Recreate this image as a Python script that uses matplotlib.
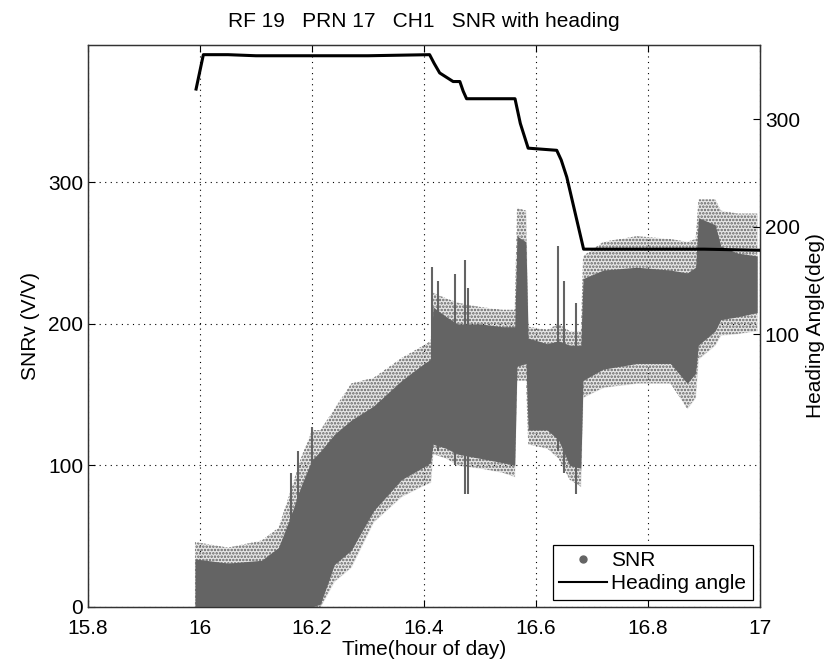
import matplotlib
matplotlib.use('Agg')
import matplotlib.pyplot as plt
from matplotlib.lines import Line2D

plt.rcParams['font.family'] = ['Liberation Sans', 'DejaVu Sans']
plt.rcParams['hatch.linewidth'] = 1.2

# ---- SNR cloud envelope ----
snr_t   = [15.991, 16.05, 16.11, 16.14, 16.16, 16.18, 16.20, 16.215, 16.24, 16.27, 16.31, 16.36, 16.40, 16.412,
           16.416, 16.44, 16.46, 16.50, 16.54, 16.562, 16.566, 16.582, 16.586, 16.62, 16.64, 16.66, 16.68,
           16.684, 16.72, 16.78, 16.84, 16.87, 16.885, 16.89, 16.92, 16.93, 16.96, 16.995]
core_lo = [0, 0, 0, 0, 0, 0, 0, 2, 30, 40, 68, 90, 99, 102,
           115, 112, 108, 105, 102, 100, 170, 172, 125, 125, 118, 100, 98,
           160, 168, 172, 172, 158, 165, 185, 195, 203, 205, 208]
core_hi = [34, 31, 33, 42, 62, 85, 104, 110, 122, 132, 142, 160, 172, 175,
           212, 205, 200, 200, 198, 198, 262, 258, 190, 186, 188, 185, 185,
           232, 238, 240, 238, 236, 240, 275, 270, 255, 250, 248]
halo_lo = [0, 0, 0, 0, 0, 0, 0, 0, 18, 28, 60, 78, 86, 88,
           108, 105, 100, 98, 95, 92, 160, 160, 115, 112, 105, 90, 85,
           148, 155, 158, 158, 140, 148, 175, 185, 192, 193, 195]
halo_hi = [46, 42, 47, 56, 80, 105, 125, 125, 140, 158, 162, 176, 185, 188,
           222, 218, 215, 212, 210, 210, 282, 280, 198, 196, 200, 195, 195,
           248, 258, 262, 260, 258, 260, 288, 288, 280, 278, 278]

# isolated vertical streaks
spike_t  = [16.163, 16.175, 16.20, 16.415, 16.425, 16.455, 16.473, 16.478, 16.64, 16.65, 16.672]
spike_lo = [0, 0, 0, 110, 110, 100, 80, 80, 110, 95, 80]
spike_hi = [95, 110, 127, 240, 230, 235, 245, 225, 255, 230, 215]

# ---- Heading angle ----
head_t = [15.993, 16.006, 16.05, 16.10, 16.20, 16.30, 16.41, 16.418, 16.428, 16.44, 16.452, 16.464, 16.47, 16.476,
          16.5625, 16.572, 16.586, 16.637, 16.645, 16.655, 16.685, 16.80, 16.90, 17.0]
head_v = [328, 360, 360, 359, 359, 359, 360, 352, 343, 339, 335, 335, 326, 319,
          319, 296, 273, 271, 262, 246, 179, 179, 179, 178]

x_ticks = [15.8, 16.0, 16.2, 16.4, 16.6, 16.8, 17.0]
x_labels = ['15.8', '16', '16.2', '16.4', '16.6', '16.8', '17']
left_ticks = [0, 100, 200, 300]
right_ticks = [100, 200, 300]

gray = '#646464'
FS = 15

fig = plt.figure(figsize=(8.33, 6.66), dpi=100)
ax = fig.add_axes([88/833, 59/666, 672/833, 562/666])

ax.fill_between(snr_t, halo_lo, halo_hi, facecolor='none', edgecolor=gray,
                hatch='.....', lw=0, zorder=2)
ax.fill_between(snr_t, halo_lo, halo_hi, color=gray, alpha=0.15, lw=0, zorder=2)
ax.fill_between(snr_t, core_lo, core_hi, color=gray, lw=0, zorder=3)
ax.vlines(spike_t, spike_lo, spike_hi, color=gray, lw=1.5, zorder=3)

ax.set_xlim(15.8, 17.0)
ax.set_ylim(0, 397)
ax.set_xticks(x_ticks)
ax.set_xticklabels(x_labels)
ax.set_yticks(left_ticks)
ax.tick_params(direction='in', labelsize=FS, length=5, top=True, width=0.8)
ax.tick_params(axis='x', pad=9)
ax.grid(True, color='black', linestyle=(0, (1, 4)), lw=0.8)
ax.set_axisbelow(True)
ax.set_xlabel('Time(hour of day)', fontsize=FS, labelpad=1)
ax.set_ylabel('SNRv (V/V)', fontsize=FS, labelpad=6)
for s in ax.spines.values():
    s.set_color('#333333')
    s.set_linewidth(0.9)

ax2 = ax.twinx()
ax2.plot(head_t, head_v, color='black', lw=2.2, zorder=4)
ax2.set_ylim(-154, 369)
ax2.set_yticks(right_ticks)
ax2.tick_params(direction='in', labelsize=FS, length=5, width=0.8)
ax2.set_ylabel('Heading Angle(deg)', fontsize=FS, labelpad=4)
for s in ax2.spines.values():
    s.set_color('#333333')
    s.set_linewidth(0.9)

ax2.set_title('RF 19   PRN 17   CH1   SNR with heading', fontsize=FS, pad=13)

handles = [Line2D([], [], color=gray, marker='o', markersize=5, linestyle='none'),
           Line2D([], [], color='black', lw=1.5)]
leg = ax2.legend(handles, ['SNR', 'Heading angle'], loc='lower right', fontsize=FS,
                 frameon=True, fancybox=False, edgecolor='black', framealpha=1,
                 borderaxespad=0.35, handlelength=2.3, handletextpad=0.2,
                 borderpad=0.3, labelspacing=0.2)
leg.get_frame().set_linewidth(0.9)

fig.savefig('out.png', dpi=100)
